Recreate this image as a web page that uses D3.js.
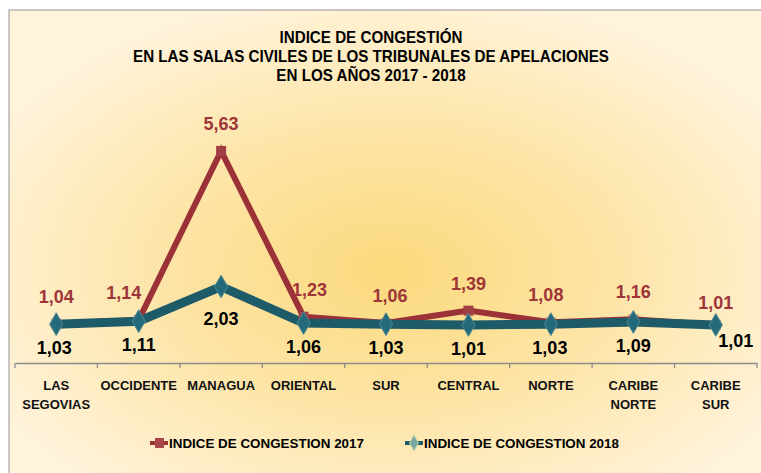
<!DOCTYPE html>
<html><head><meta charset="utf-8">
<script src="https://cdn.jsdelivr.net/npm/d3@7"></script>
<style>html,body{margin:0;padding:0;background:#fff;}svg{display:block;}</style>
</head><body>
<script>
const categories = [["LAS","SEGOVIAS"],["OCCIDENTE"],["MANAGUA"],["ORIENTAL"],["SUR"],["CENTRAL"],["NORTE"],["CARIBE","NORTE"],["CARIBE","SUR"]];
const values2017 = [1.04,1.14,5.63,1.23,1.06,1.39,1.08,1.16,1.01];
const values2018 = [1.03,1.11,2.03,1.06,1.03,1.01,1.03,1.09,1.01];
const seriesNames = ["INDICE DE CONGESTION 2017","INDICE DE CONGESTION 2018"];
const titleLines = ["INDICE DE CONGESTIÓN","EN LAS SALAS CIVILES DE LOS TRIBUNALES DE APELACIONES","EN LOS AÑOS 2017 - 2018"];

const W=761,H=473;
const svg=d3.select("body").append("svg").attr("width",W).attr("height",H);
const defs=svg.append("defs");
const rg=defs.append("radialGradient").attr("id","bg").attr("cx","50%").attr("cy","55%").attr("r","60%");
rg.append("stop").attr("offset","0%").attr("stop-color","#fbd97c");
rg.append("stop").attr("offset","50%").attr("stop-color","#fde5a8");
rg.append("stop").attr("offset","100%").attr("stop-color","#fff3dc");
svg.append("rect").attr("x",9).attr("y",10).attr("width",W).attr("height",H).attr("fill","url(#bg)").attr("stroke","#a6a6a6").attr("stroke-width",1.2);

const sans="'Liberation Sans',Arial,sans-serif";
const t=svg.append("g");
titleLines.forEach((l,i)=>{
  const tx=t.append("text").attr("x",371).attr("y",43+i*19).attr("text-anchor","middle")
   .attr("font-family",sans).attr("font-weight","bold").attr("font-size",16.5).attr("fill","#000").text(l);
  const len=tx.node().getComputedTextLength();
  tx.attr("textLength",len*0.92).attr("lengthAdjust","spacingAndGlyphs");
});

const x=d3.scaleBand().domain(d3.range(categories.length)).range([15,757]);
const y=d3.scaleLinear().domain([0,6]).range([363,137]);
const cx=i=>x(i)+x.bandwidth()/2;

// axis
const axis=d3.axisBottom(x).tickSize(0).tickFormat("");
const ag=svg.append("g").attr("transform","translate(0,363)").call(axis);
ag.select(".domain").attr("stroke","#8c8c8c").attr("stroke-width",1.3);
const bounds=d3.range(categories.length+1).map(i=>15+i*x.bandwidth());
svg.append("g").selectAll("line").data(bounds).join("line")
  .attr("x1",d=>d).attr("x2",d=>d).attr("y1",363).attr("y2",368).attr("stroke","#8c8c8c").attr("stroke-width",1.3);
categories.forEach((c,i)=>{
  c.forEach((l,j)=>{
    svg.append("text").attr("x",cx(i)).attr("y",390+j*19).attr("text-anchor","middle")
      .attr("font-family",sans).attr("font-weight","bold").attr("font-size",13).attr("fill","#111").text(l);
  });
});

const line=d3.line().x((d,i)=>cx(i)).y(d=>y(d));
const red="#9a3237", teal="#1d5b69";
svg.append("path").datum(values2017).attr("d",line).attr("fill","none").attr("stroke",red).attr("stroke-width",6).attr("stroke-linejoin","miter");
svg.append("path").datum(values2018).attr("d",line).attr("fill","none").attr("stroke",teal).attr("stroke-width",9).attr("stroke-linejoin","miter");

svg.append("g").selectAll("rect").data(values2017).join("rect")
  .attr("x",(d,i)=>cx(i)-5).attr("y",d=>y(d)-5).attr("width",10).attr("height",10)
  .attr("fill","#a23f44").attr("opacity",(d,i)=>values2017[i]-values2018[i]>0.1?1:0.5);
svg.append("g").selectAll("path").data(values2018).join("path")
  .attr("d",d3.symbol(d3.symbolDiamond,150))
  .attr("transform",(d,i)=>`translate(${cx(i)},${y(d)})`)
  .attr("fill","#256a7b").attr("stroke","#4f8a95").attr("stroke-width",1);

const fmt=v=>v.toFixed(2).replace(".",",");
const dx17=[0,-15,0,6,4,0,-5,0,0];
const dy17=[-21,-21,-21,-21,-21,-21,-21,-21,-16];
svg.append("g").selectAll("text").data(values2017).join("text")
  .attr("x",(d,i)=>cx(i)+dx17[i]).attr("y",(d,i)=>y(d)+dy17[i]).attr("text-anchor","middle")
  .attr("font-family",sans).attr("font-weight","bold").attr("font-size",18).attr("fill","#9e3539").text(fmt);
const dx18=[-2,0,0,0,0,0,-1,0,20];
const dy18=[30,30,38,30,30,30,30,30,22];
svg.append("g").selectAll("text").data(values2018).join("text")
  .attr("x",(d,i)=>cx(i)+dx18[i]).attr("y",(d,i)=>y(d)+dy18[i]).attr("text-anchor","middle")
  .attr("font-family",sans).attr("font-weight","bold").attr("font-size",18).attr("fill","#000").text(fmt);

// legend
const leg=[{x:150,c:red,n:seriesNames[0],m:"sq"},{x:405,c:teal,n:seriesNames[1],m:"di"}];
leg.forEach(l=>{
  const g=svg.append("g");
  g.append("line").attr("x1",l.x).attr("x2",l.x+18).attr("y1",443).attr("y2",443).attr("stroke",l.c).attr("stroke-width",4);
  if(l.m=="sq") g.append("rect").attr("x",l.x+5).attr("y",438).attr("width",9).attr("height",10).attr("fill","#a8464a");
  else g.append("path").attr("d",d3.symbol(d3.symbolDiamond,70)).attr("transform",`translate(${l.x+9},443)`).attr("fill","#7aa7a0").attr("stroke","#b5d9a8");
  g.append("text").attr("x",l.x+19).attr("y",448).attr("font-family",sans).attr("font-weight","bold").attr("font-size",13.4).attr("fill","#000").text(l.n);
});
</script>
</body></html>
